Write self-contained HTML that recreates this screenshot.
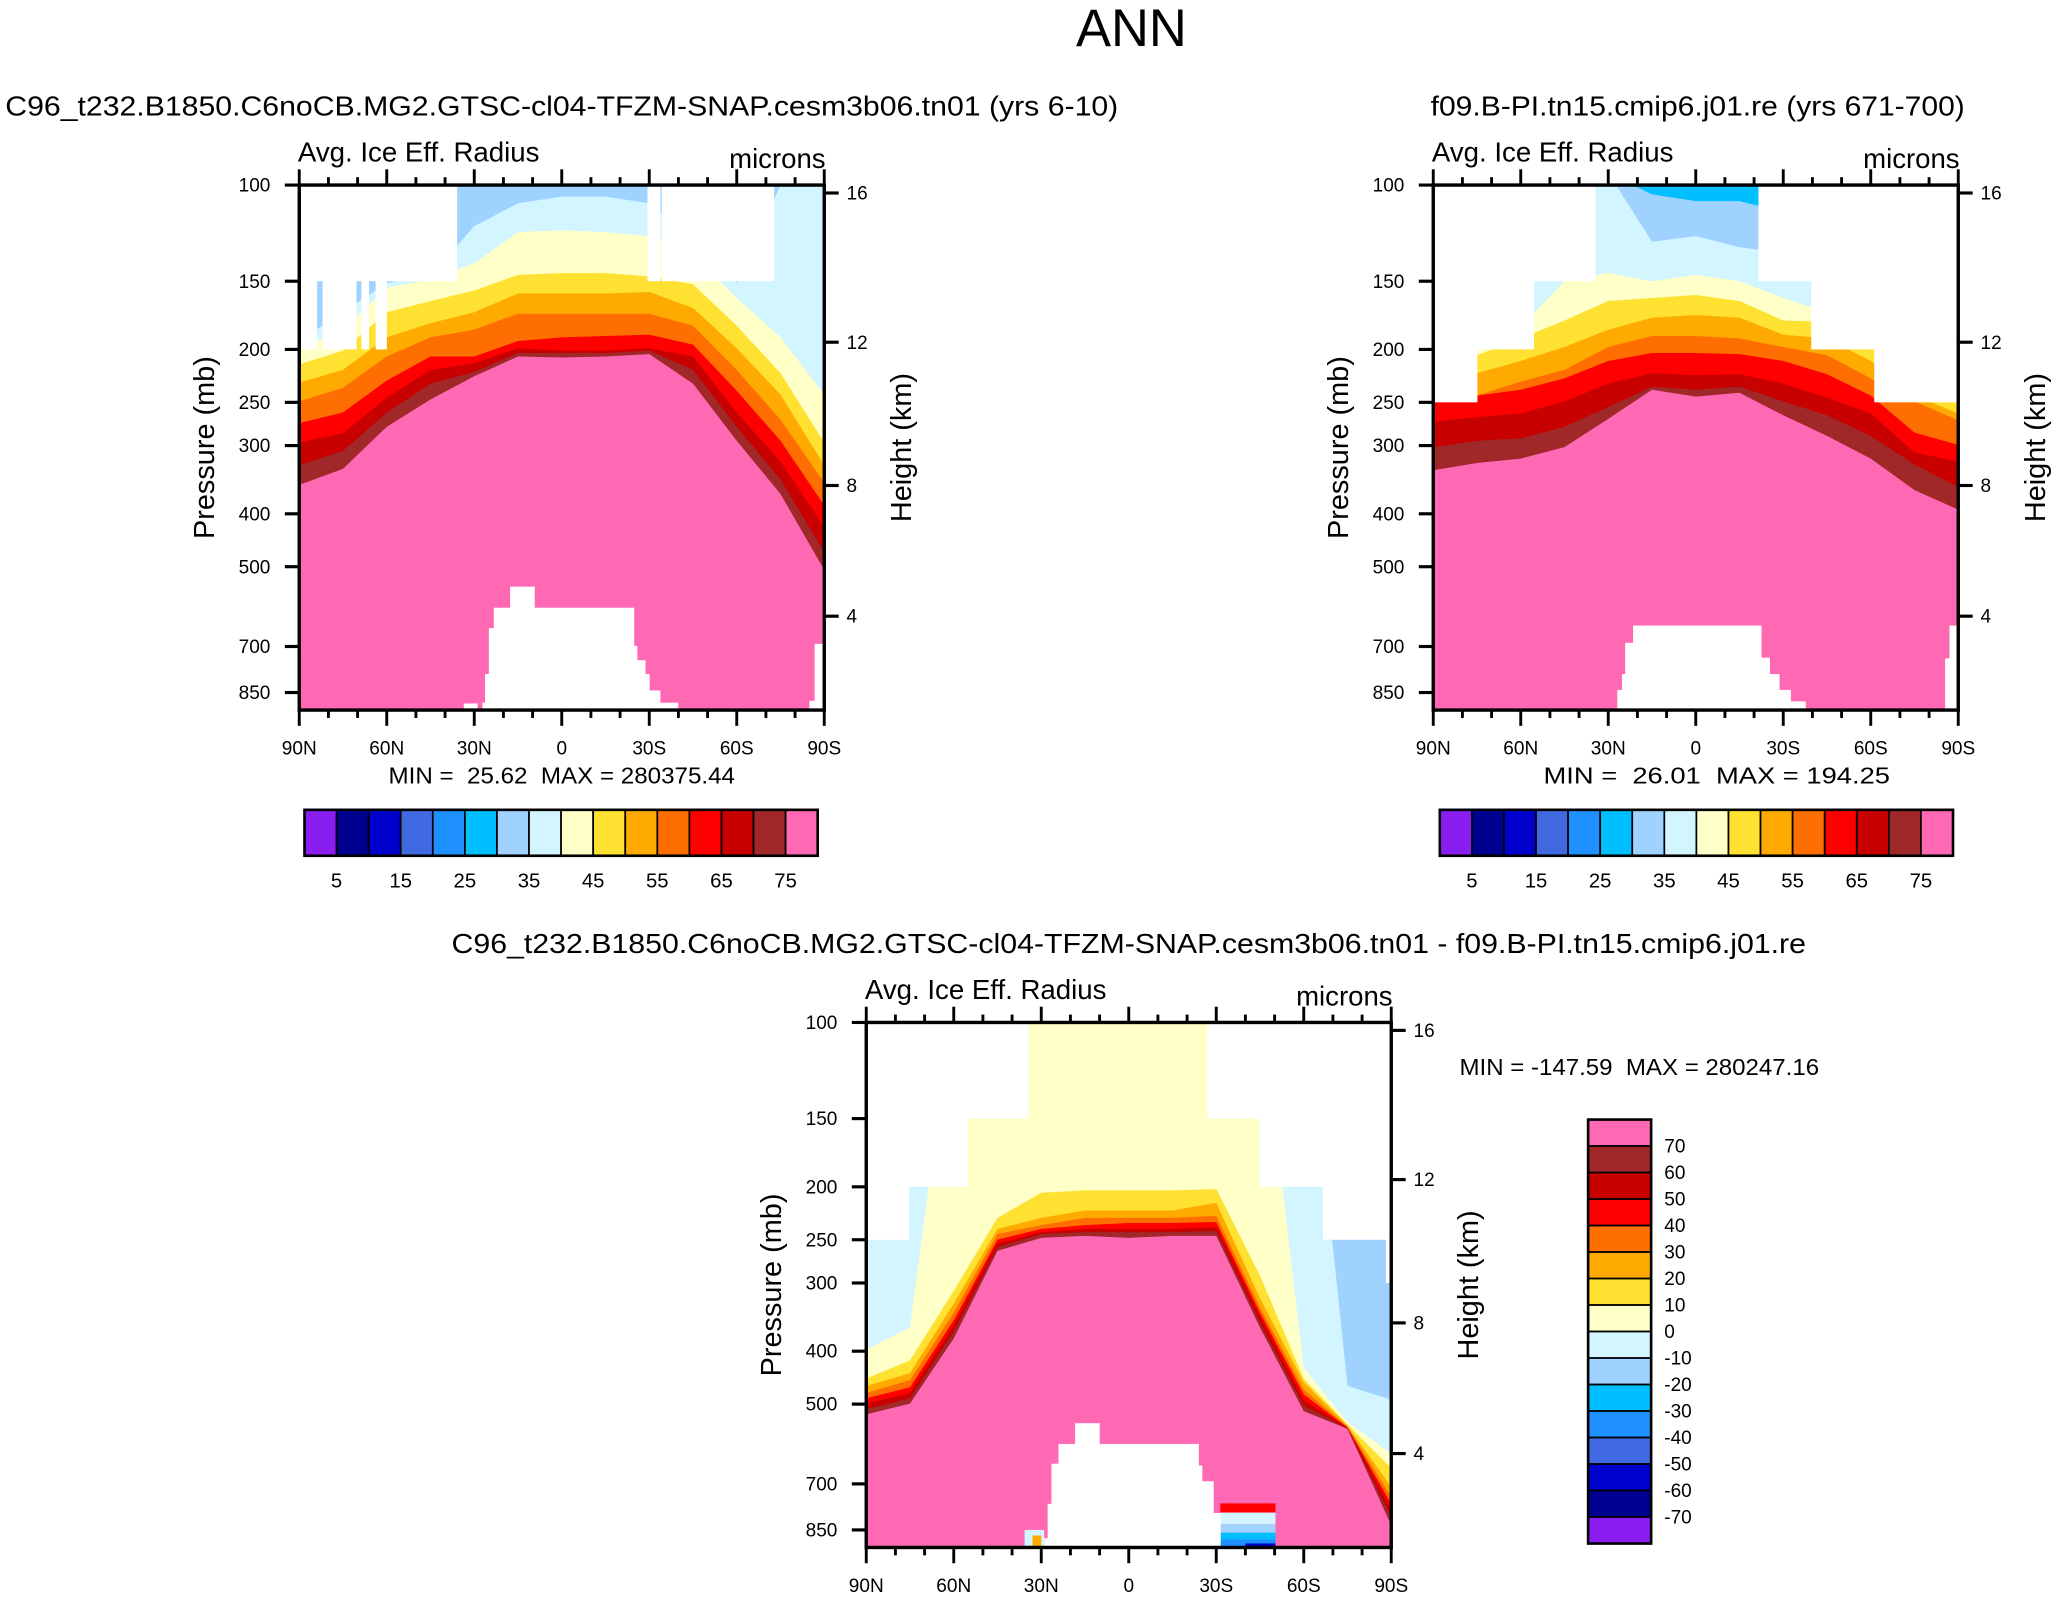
<!DOCTYPE html>
<html><head><meta charset="utf-8"><title>ANN Avg. Ice Eff. Radius</title>
<style>html,body{margin:0;padding:0;background:#fff}svg{display:block}text{font-family:"Liberation Sans",Arial,sans-serif;fill:#000;white-space:pre}</style>
</head><body>
<svg id="fig" xmlns="http://www.w3.org/2000/svg" width="2058" height="1598" viewBox="0 0 1568 1217.5" preserveAspectRatio="none" xml:space="preserve">
<text x="862" y="35" font-size="40" text-anchor="middle">ANN</text>
<text x="4" y="88" font-size="21" textLength="848" lengthAdjust="spacingAndGlyphs">C96_t232.B1850.C6noCB.MG2.GTSC-cl04-TFZM-SNAP.cesm3b06.tn01 (yrs 6-10)</text>
<text x="1090" y="88" font-size="21" textLength="407" lengthAdjust="spacingAndGlyphs">f09.B-PI.tn15.cmip6.j01.re (yrs 671-700)</text>
<text x="344" y="726" font-size="21" textLength="1032" lengthAdjust="spacingAndGlyphs">C96_t232.B1850.C6noCB.MG2.GTSC-cl04-TFZM-SNAP.cesm3b06.tn01 - f09.B-PI.tn15.cmip6.j01.re</text>
</svg>
<script>
// ---------- data ----------
const lats = [90,75,60,45,30,15,0,-15,-30,-45,-60,-75,-90];
const palette = ['#8a1ef0','#000090','#0000cd','#4169e1','#1e90ff','#00bfff','#a0d2ff','#d2f5ff','#ffffc8','#ffe132','#ffaa00','#ff6e00','#ff0000','#c80000','#a02828','#ff69b4'];
const pTicks = [100,150,200,250,300,400,500,700,850];
const heightTickKm = [16,12,8,4];
const heightTickP = [103.4,194,355,616];
const latTicks = [90,60,30,0,-30,-60,-90];
const latTickLabels = ['90N','60N','30N','0','30S','60S','90S'];
const cbarLabels = [5,15,25,35,45,55,65,75];
const diffLabels = [70,60,50,40,30,20,10,0,-10,-20,-30,-40,-50,-60,-70];

// panel 1 contour pressures (mb) at each lat
const p1Levels = [35,40,45,50,55,60,65,70,75];
const p1L35 = [193,171,151,147,119,108,105,105,108,126,151,100,100];
const p1L40 = [199,184,154,149,139,122,121,122,124,134,161,190,242];
const p1L45 = [213,201,171,163,156,146,145,145,147,152,181,221,296];
const p1L50 = [230,218,190,179,171,158,158,158,157,168,199,242,326];
const p1L55 = [249,235,206,190,184,172,172,172,172,181,218,269,351];
const p1L60 = [273,261,228,206,206,193,190,189,188,196,238,294,386];
const p1L65 = [296,285,245,218,212,199,201,201,199,206,261,321,423];
const p1L70 = [326,307,261,231,220,203,203,203,201,218,277,346,470];
const p1L75 = [354,331,277,247,224,206,207,206,204,231,294,368,507];
const p1Missing = [[90,36,90,150],[90,84,90,200],[82,70.5,90,200],[68.7,66.2,90,200],[63.8,60.1,90,200],
  [-29.4,-33.7,90,150],[-34.3,-72.7,90,150],
  [23.3,9.4,601,1000],[17.7,9.4,550,1000],[9.4,-24.7,601,1000],[25.0,23.3,655,1000],[26.3,25.0,795,1000],[27.2,26.3,897,1000],
  [-24.7,-25.8,706,1000],[-25.8,-28.6,750,1000],[-28.6,-30,795,1000],[-30,-33.7,852,1000],[-33.7,-39.8,897,1000],
  [-84.9,-86.7,890,1000],[-86.7,-90,700,1000],[33.6,29,900,1000]];

// panel 2
const p2Levels = [30,35,40,45,50,55,60,65,70,75];
const p2L30 = [95,95,95,95,95,104,107,107,112,95,95,95,95];
const p2L35 = [95,95,95,95,95,127,124,130,133,95,95,95,95];
const p2L40 = [196,196,182,150,145,150,146,150,161,171,186,205,221];
const p2L45 = [210,205,191,177,163,161,159,163,177,178,196,221,249];
const p2L50 = [226,221,210,198,184,175,173,175,188,191,210,243,262];
const p2L55 = [243,243,229,218,198,189,189,191,198,205,226,249,270];
const p2L60 = [249,243,237,226,210,203,203,204,210,222,243,284,299];
const p2L65 = [271,266,262,249,231,221,223,222,231,245,262,309,321];
const p2L70 = [302,294,291,277,255,234,237,234,249,264,288,325,357];
const p2L75 = [333,323,317,302,268,237,244,240,264,288,317,362,393];
const p2Missing = [[90,75,90,250],[75,55.6,90,200],[55.6,34.5,90,150],[-21.5,-39.6,90,150],[-39.6,-61.2,90,200],[-61.2,-90,90,250],
  [21.5,-22.4,648,1000],[24.2,21.5,697,1000],[25.3,24.2,795,1000],[26.9,25.3,850,1000],
  [-22.4,-25.3,742,1000],[-25.3,-28.6,795,1000],[-28.6,-32.5,850,1000],[-32.5,-37.6,892,1000],[-85.5,-87,744,1000],[-87,-90,648,1000]];

// panel 3 (difference)
const p3Levels = [-10,0,10,20,30,40,50,60,70];
const p3Lm10 = [80,80,80,80,80,80,80,80,80,80,80,463,491];
const p3L0  = [397,362,90,90,90,90,90,90,90,90,429,539,616];
const p3L10 = [449,416,310,228,205,203,203,203,202,291,449,545,655];
const p3L20 = [463,439,327,239,228,221,221,221,214,320,456,548,709];
const p3L30 = [477,452,340,244,235,228,228,228,226,333,470,550,740];
const p3L40 = [488,466,351,250,239,235,233,233,232,340,480,552,762];
const p3L50 = [499,477,359,254,242,239,239,239,237,346,492,553,782];
const p3L60 = [511,488,368,258,244,242,242,242,241,354,503,554,806];
const p3L70 = [522,499,379,262,248,246,248,246,246,362,515,555,834];
const p3Patches = [[-31.4,-50.3,760,790,12],[-31.4,-50.3,790,830,7],[-31.4,-50.3,830,860,6],[-31.4,-50.3,860,885,5],[-31.4,-50.3,885,1000,4],[-40,-50.3,900,1000,2],[35.7,29,850,1000,7],[33,30,870,1000,10]];
const p3Missing = [[90,75.4,90,250],[75.4,55.2,90,200],[55.2,34.5,90,150],[-26.9,-44.8,90,150],[-44.8,-66.6,90,200],[-66.6,-88.2,90,250],[-88.2,-90,90,300],
  [24.1,-23.9,598,1000],[18.4,10.1,548,1000],[26.5,24.1,650,1000],[27.8,26.5,770,1000],[29.0,27.8,890,1000],
  [-23.9,-25.1,655,1000],[-25.1,-29.0,700,1000],[-29.0,-31.4,800,1000]];

// ---------- drawing ----------
const NS='http://www.w3.org/2000/svg';
const svg=document.getElementById('fig');
function mk(tag,attrs,parent){const e=document.createElementNS(NS,tag);for(const k in attrs)e.setAttribute(k,attrs[k]);(parent||svg).appendChild(e);return e;}
const W=400,H=400;

function drawPanel(id,ox,oy,baseIdx,levels,contours,levelIdx,missing,patches){
  const xOf=lat=>ox+(90-lat)/180*W;
  const yOf=p=>oy+416*Math.log10(p/100);
  const cp=mk('clipPath',{id:'clip'+id});
  mk('rect',{x:ox,y:oy,width:W,height:H},cp);
  const g=mk('g',{'clip-path':'url(#clip'+id+')'});
  
  
  const bg=mk('rect',{x:ox,y:oy,width:W,height:H,fill:palette[baseIdx]},g);
  
  
  levels.forEach((lv,k)=>{
    const arr=contours[k];
    let pts=lats.map((la,i)=>xOf(la).toFixed(1)+','+yOf(arr[i]).toFixed(1));
    pts.push((ox+W+5)+','+(oy+H+5));pts.push((ox-5)+','+(oy+H+5));
    const pl=mk('polygon',{points:pts.join(' '),fill:palette[levelIdx(lv)]},g);
    
    
  });
  (patches||[]).forEach(pa=>{
    const r=mk('rect',{x:xOf(pa[0]),y:yOf(pa[2]),width:xOf(pa[1])-xOf(pa[0]),height:yOf(pa[3])-yOf(pa[2]),fill:palette[pa[4]]},g);
    
    
  });
  missing.forEach(m=>{
    const r=mk('rect',{x:xOf(m[0]),y:yOf(m[2])-2,width:xOf(m[1])-xOf(m[0])+0.3,height:yOf(m[3])-yOf(m[2])+2,fill:'#fff'},g);
    
    
  });
  const fr=mk('rect',{x:ox,y:oy,width:W,height:H,fill:'none',stroke:'#000','stroke-width':2.6});
  
  
  pTicks.forEach(p=>{
    const y=yOf(p);
    mk('line',{x1:ox-11,x2:ox,y1:y,y2:y,stroke:'#000','stroke-width':2.4});
    const t=mk('text',{x:ox-22,y:y+5,'font-size':14.5,'text-anchor':'end'});t.textContent=p;
    
    
  });
  heightTickKm.forEach((h,i)=>{
    const y=yOf(heightTickP[i]);
    mk('line',{x1:ox+W,x2:ox+W+11,y1:y,y2:y,stroke:'#000','stroke-width':2.4});
    const t=mk('text',{x:ox+W+17,y:y+5,'font-size':14.5});t.textContent=h;
    
    
  });
  for(let la=90;la>=-90;la-=10){
    const x=xOf(la),major=(la%30===0);const L=major?12:6;
    mk('line',{x1:x,x2:x,y1:oy+H,y2:oy+H+L,stroke:'#000','stroke-width':2.2});
    mk('line',{x1:x,x2:x,y1:oy,y2:oy-L,stroke:'#000','stroke-width':2.2});
  }
  latTicks.forEach((la,i)=>{
    const t=mk('text',{x:xOf(la),y:oy+H+34,'font-size':14.5,'text-anchor':'middle'});t.textContent=latTickLabels[i];
    
    
  });
  let t=mk('text',{x:ox-1,y:oy-18,'font-size':21,textLength:184,lengthAdjust:'spacingAndGlyphs'});t.textContent='Avg. Ice Eff. Radius';
  
  
  t=mk('text',{x:ox+W+1,y:oy-13,'font-size':21,'text-anchor':'end'});t.textContent='microns';
  
  
  t=mk('text',{x:0,y:0,'font-size':22,'text-anchor':'middle',transform:'translate('+(ox-65)+','+(oy+200)+') rotate(-90)'});t.textContent='Pressure (mb)';
  
  
  t=mk('text',{x:0,y:0,'font-size':22,'text-anchor':'middle',transform:'translate('+(ox+W+66)+','+(oy+200)+') rotate(-90)'});t.textContent='Height (km)';
  
  
}

drawPanel('panel1',228,141,6,p1Levels,[p1L35,p1L40,p1L45,p1L50,p1L55,p1L60,p1L65,p1L70,p1L75],lv=>lv/5,p1Missing,null);
drawPanel('panel2',1092,141,5,p2Levels,[p2L30,p2L35,p2L40,p2L45,p2L50,p2L55,p2L60,p2L65,p2L70,p2L75],lv=>lv/5,p2Missing,null);
drawPanel('panel3',660,779,6,p3Levels,[p3Lm10,p3L0,p3L10,p3L20,p3L30,p3L40,p3L50,p3L60,p3L70],lv=>(lv+70)/10+1,p3Missing,p3Patches);

[[296,'panel1','MIN =  25.62  MAX = 280375.44'],[1176,'panel2','MIN =  26.01  MAX = 194.25']].forEach(d=>{
  const t=mk('text',{x:d[0],y:597,'font-size':17.5,textLength:264,lengthAdjust:'spacingAndGlyphs'});t.textContent=d[2];
  
  
});
{const t=mk('text',{x:1112,y:819,'font-size':17.5,textLength:274,lengthAdjust:'spacingAndGlyphs'});t.textContent='MIN = -147.59  MAX = 280247.16';

}

[[232,'panel1'],[1097,'panel2']].forEach(d=>{
  const x0=d[0],y0=617,w=391,h=35,bw=w/16;
  palette.forEach((c,i)=>{
    const r=mk('rect',{x:x0+i*bw,y:y0,width:bw,height:h,fill:c,stroke:'#000','stroke-width':1.3});
    
    
  });
  mk('rect',{x:x0,y:y0,width:w,height:h,fill:'none',stroke:'#000','stroke-width':2});
  cbarLabels.forEach(v=>{
    const t=mk('text',{x:x0+(v/5)*bw,y:676,'font-size':15.5,'text-anchor':'middle'});t.textContent=v;
    
    
  });
});
{
  const x0=1210,y0=853,w=48,h=323,bh=h/16;
  palette.slice().reverse().forEach((c,i)=>{
    const r=mk('rect',{x:x0,y:y0+i*bh,width:w,height:bh,fill:c,stroke:'#000','stroke-width':1.3});
    
    
  });
  mk('rect',{x:x0,y:y0,width:w,height:h,fill:'none',stroke:'#000','stroke-width':2});
  diffLabels.forEach((v,i)=>{
    const t=mk('text',{x:1268,y:y0+(i+1)*bh+5,'font-size':14.5});t.textContent=v;
    
    
  });
}
</script>
</body></html>
